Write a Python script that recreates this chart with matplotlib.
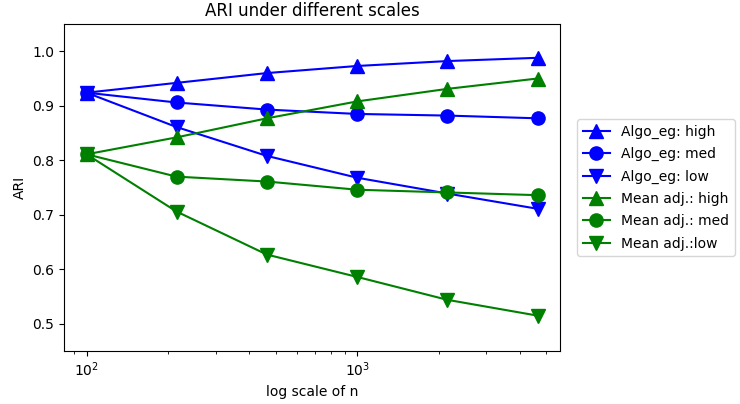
import numpy as np
import matplotlib
matplotlib.use('Agg')
import matplotlib.pyplot as plt

# sample sizes (log spaced)
n_values = [100, 215, 464, 1000, 2154, 4642]

# ARI per method / signal level
algo_high = [0.924, 0.942, 0.960, 0.973, 0.982, 0.988]
algo_med = [0.924, 0.906, 0.893, 0.885, 0.882, 0.877]
algo_low = [0.924, 0.861, 0.808, 0.768, 0.739, 0.711]
mean_high = [0.811, 0.842, 0.877, 0.908, 0.931, 0.950]
mean_med = [0.811, 0.770, 0.761, 0.746, 0.741, 0.736]
mean_low = [0.811, 0.706, 0.627, 0.586, 0.544, 0.515]

series = [
    (algo_high, 'b', '^', 'Algo_eg: high'),
    (algo_med, 'b', 'o', 'Algo_eg: med'),
    (algo_low, 'b', 'v', 'Algo_eg: low'),
    (mean_high, 'g', '^', 'Mean adj.: high'),
    (mean_med, 'g', 'o', 'Mean adj.: med'),
    (mean_low, 'g', 'v', 'Mean adj.:low'),
]

fig = plt.figure(figsize=(7.4, 4.04), dpi=100)
ax = fig.add_axes([0.0865, 0.131, 0.6705, 0.8096])

for vals, color, marker, label in series:
    ax.plot(n_values, vals, color=color, marker=marker, markersize=9.5, label=label)

ax.set_xscale('log')
ax.set_ylim(0.45, 1.05)
ax.set_title('ARI under different scales')
ax.set_xlabel('log scale of n')
ax.set_ylabel('ARI')
ax.legend(loc='center left', bbox_to_anchor=(1.02, 0.5), labelspacing=0.6)

fig.savefig('out.png', dpi=100)
